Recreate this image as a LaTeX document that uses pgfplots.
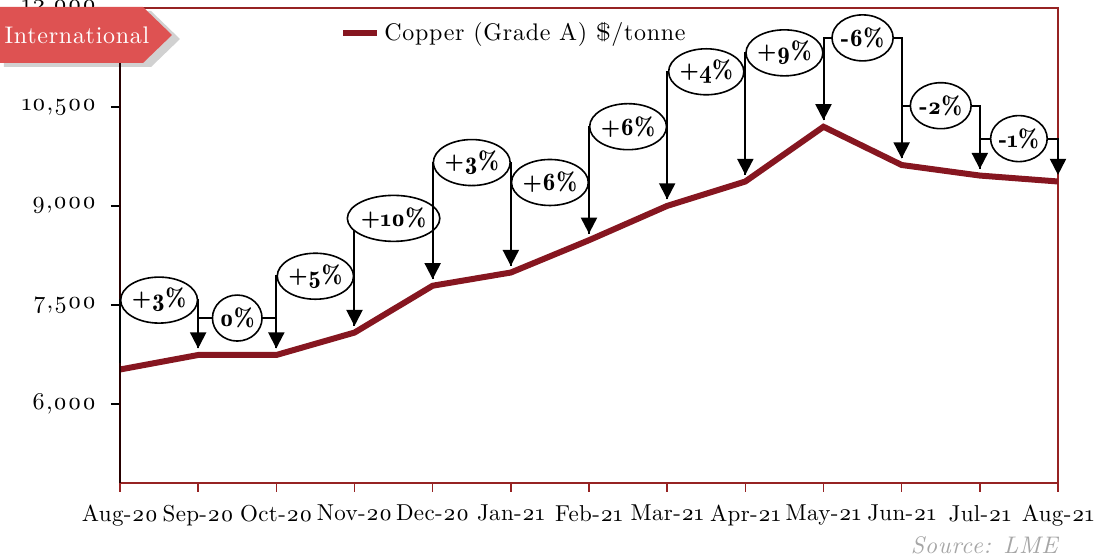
\documentclass[border=0pt]{standalone}
\usepackage{fontspec}
\setmainfont{lmroman10-regular.otf}[BoldFont=lmroman10-bold.otf, ItalicFont=lmroman10-italic.otf, Numbers=OldStyle]
\newfontfamily\demifont{lmromandemi10-regular.otf}[Numbers=OldStyle]
\usepackage{pgfplots}
\pgfplotsset{compat=1.18}
\usetikzlibrary{arrows.meta,shapes.geometric}

\definecolor{cu}{RGB}{134,22,32}
\definecolor{frame}{RGB}{150,35,35}
\definecolor{tag}{RGB}{222,82,82}

\newcommand{\lsfont}{\fontsize{12}{14}\selectfont\addfontfeatures{LetterSpace=3}}
\newcommand{\xlfont}{\fontsize{11.5}{14}\selectfont\addfontfeatures{LetterSpace=1.5}}
\newcommand{\labfont}{\demifont\fontsize{12.5}{14}\selectfont}

% from, to, start y, arrow tip y, level, mid x, label
\newcommand{\callout}[7]{%
  \draw[black, line width=1pt, -{Triangle[width=8pt,length=8pt]}]
    (axis cs:#1,#3) |- (axis cs:#2,#5) -- (axis cs:#2,#4);
  \node[ellipse, draw=black, line width=0.8pt, fill=white, inner xsep=0pt, inner ysep=2pt,
        minimum height=23pt, font=\labfont] at (axis cs:#6,#5) {#7};
}

\begin{document}
\begin{tikzpicture}
\begin{axis}[
    scale only axis,
    width=469pt, height=237.5pt,
    xmin=0, xmax=12, ymin=4800, ymax=12000,
    xtick={0,...,12},
    xticklabels={Aug-20,Sep-20,Oct-20,Nov-20,Dec-20,Jan-21,Feb-21,Mar-21,Apr-21,May-21,Jun-21,Jul-21,Aug-21},
    ytick={6000,7500,9000,10500,12000},
    xtick pos=bottom, ytick pos=left,
    scaled y ticks=false,
    axis line style={frame, line width=0.8pt},
    tick align=outside,
    major tick length=4.5pt,
    xtick style={frame, line width=0.8pt},
    ytick style={black, line width=0.8pt},
    yticklabel style={/pgf/number format/1000 sep={,}, /pgf/number format/assume math mode=true, font=\lsfont, xshift=-4pt},
    xticklabel style={font=\xlfont, yshift=-3pt},
    clip=false,
    legend style={at={(0.421,0.947)}, anchor=center, draw=none, fill=none, font=\lsfont},
]
\addplot[cu, line width=3pt] coordinates {
    (0,6520) (1,6740) (2,6740) (3,7080) (4,7790) (5,7990) (6,8480)
    (7,9000) (8,9370) (9,10200) (10,9620) (11,9460) (12,9370)
};
\addlegendentry{Copper (Grade A) \$/tonne}

\draw[black!85!red, line width=1pt] (rel axis cs:0,0) -- (rel axis cs:0,1);

\callout{0}{1}{6620}{6840}{7572}{0.5}{+3\%}
\callout{1}{2}{6840}{6840}{7300}{1.5}{0\%}
\callout{2}{3}{6840}{7180}{7934}{2.5}{+5\%}
\callout{3}{4}{7180}{7890}{8811}{3.5}{+10\%}
\callout{4}{5}{7890}{8090}{9657}{4.5}{+3\%}
\callout{5}{6}{8090}{8580}{9355}{5.5}{+6\%}
\callout{6}{7}{8580}{9100}{10201}{6.5}{+6\%}
\callout{7}{8}{9100}{9470}{11033}{7.5}{+4\%}
\callout{8}{9}{9470}{10300}{11320}{8.5}{+9\%}
\callout{9}{10}{10300}{9720}{11547}{9.5}{-6\%}
\callout{10}{11}{9720}{9560}{10519}{10.5}{-2\%}
\callout{11}{12}{9560}{9470}{10020}{11.5}{-1\%}
\end{axis}

% tag
\fill[black, opacity=0.18] ([shift={(-58pt,-1.5pt)}]current axis.north west) -- ++(73.5pt,0) -- ++(14.5pt,-14pt) -- ++(-14.5pt,-14pt) -- ++(-73.5pt,0) -- cycle;
\fill[tag] ([shift={(-60pt,0.5pt)}]current axis.north west) -- ++(71.5pt,0) -- ++(14.5pt,-14pt) -- ++(-14.5pt,-14pt) -- ++(-71.5pt,0) -- cycle;
\node[text=white, font=\fontsize{12}{14}\selectfont\addfontfeatures{LetterSpace=3}] at ([shift={(-21.5pt,-13.5pt)}]current axis.north west) {International};

\node[anchor=east, text=gray!70, font=\itshape\lsfont, inner sep=0pt] at ([yshift=-31pt]current axis.south east) {Source: LME};

\pgfresetboundingbox
\path[use as bounding box] ([shift={(-60pt,-37pt)}]current axis.south west) rectangle ([shift={(18pt,4pt)}]current axis.north east);
\end{tikzpicture}
\end{document}
